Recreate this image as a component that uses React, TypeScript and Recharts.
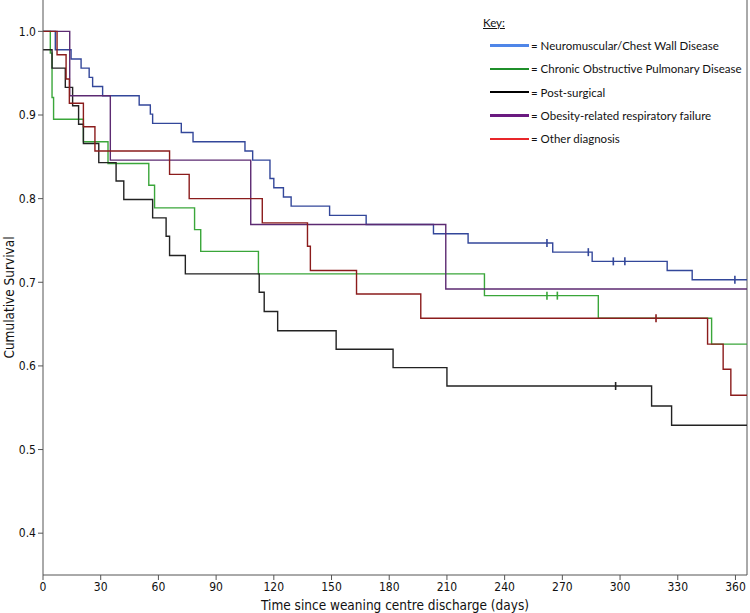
import {
  ComposedChart,
  Line,
  Scatter,
  XAxis,
  YAxis,
  ReferenceLine,
} from 'recharts'

// Kaplan-Meier steps (day, cumulative survival)
const neuroDays = [0, 6.4, 14.6, 19.8, 24, 25.8, 31, 50, 55.8, 57, 71.9, 78, 105, 109, 118, 120, 125, 129, 149, 168, 203, 221, 265, 285.5, 324.5, 337.5, 366]
const neuroSurv = [1.0, 0.978, 0.967, 0.956, 0.945, 0.934, 0.923, 0.912, 0.901, 0.89, 0.879, 0.868, 0.857, 0.846, 0.824, 0.813, 0.802, 0.791, 0.78, 0.769, 0.758, 0.747, 0.736, 0.725, 0.714, 0.703, 0.703]
const neuroCensorDays = [262, 283.5, 296.5, 302.5, 359.7]
const neuroCensorSurv = [0.747, 0.736, 0.725, 0.725, 0.703]

const copdDays = [0, 3.8, 4.7, 5.5, 21, 33.8, 55, 58, 78.8, 82, 112, 229.5, 288.7, 347.6, 366]
const copdSurv = [1.0, 0.974, 0.921, 0.895, 0.868, 0.842, 0.816, 0.789, 0.763, 0.737, 0.71, 0.684, 0.657, 0.626, 0.626]
const copdCensorDays = [262, 267.4]
const copdCensorSurv = [0.684, 0.684]

const postDays = [0, 4.7, 11.6, 15.4, 18.5, 21, 29, 38, 42, 57, 64, 65.8, 74, 112.4, 115, 122, 152.4, 182, 210, 316.4, 326.8, 366]
const postSurv = [0.978, 0.956, 0.933, 0.911, 0.889, 0.866, 0.843, 0.821, 0.799, 0.777, 0.755, 0.732, 0.71, 0.688, 0.665, 0.642, 0.62, 0.598, 0.576, 0.552, 0.529, 0.529]
const postCensorDays = [297.7]
const postCensorSurv = [0.576]

const obesityDays = [0, 13.9, 35, 108, 209.4, 366]
const obesitySurv = [1.0, 0.923, 0.846, 0.769, 0.692, 0.692]

const otherDays = [0, 7.3, 12, 13.7, 21, 27, 65.8, 76, 114, 137.5, 139, 163, 196.4, 345.5, 353.6, 357.6, 366]
const otherSurv = [1.0, 0.972, 0.943, 0.914, 0.886, 0.857, 0.829, 0.8, 0.771, 0.743, 0.714, 0.686, 0.657, 0.626, 0.596, 0.565, 0.565]
const otherCensorDays = [318.7]
const otherCensorSurv = [0.657]

const xTicks = [0, 30, 60, 90, 120, 150, 180, 210, 240, 270, 300, 330, 360]
const yTicks = [0.4, 0.5, 0.6, 0.7, 0.8, 0.9, 1.0]

const legendLabels = [
  '= Neuromuscular/Chest Wall Disease',
  '= Chronic Obstructive Pulmonary Disease',
  '= Post-surgical',
  '= Obesity-related respiratory failure',
  '= Other diagnosis',
]
const legendColors = ['#4f86e8', '#1f8f2a', '#000000', '#6a1a80', '#e8262a']

const zip = (days: number[], surv: number[]) =>
  days.map((day, i) => ({ day, s: surv[i] }))

const series = [
  { key: 'neuro', color: '#33479a', data: zip(neuroDays, neuroSurv), censor: zip(neuroCensorDays, neuroCensorSurv) },
  { key: 'copd', color: '#3aa63a', data: zip(copdDays, copdSurv), censor: zip(copdCensorDays, copdCensorSurv) },
  { key: 'post', color: '#222222', data: zip(postDays, postSurv), censor: zip(postCensorDays, postCensorSurv) },
  { key: 'obesity', color: '#5c2a72', data: zip(obesityDays, obesitySurv), censor: [] },
  { key: 'other', color: '#8b1c1c', data: zip(otherDays, otherSurv), censor: zip(otherCensorDays, otherCensorSurv) },
]

const axisFont = "'Liberation Sans Narrow', 'DejaVu Sans Condensed', sans-serif"

const censorShape = (color: string) => (props: any) => {
  const { cx, cy } = props
  return <line x1={cx} x2={cx} y1={cy - 4} y2={cy + 4} stroke={color} strokeWidth={1.6} />
}

export default function App() {
  return (
    <div style={{ position: 'absolute', left: 0, top: 0, width: 750, height: 613, background: '#fff' }}>
      <ComposedChart
        width={750}
        height={613}
        margin={{ top: 0, right: 3, left: 0, bottom: 8 }}
      >
        <XAxis
          type="number"
          dataKey="day"
          domain={[0, 366]}
          ticks={xTicks}
          allowDataOverflow
          height={30}
          stroke="#555"
          tickSize={5}
          tick={{ fill: '#111', fontSize: 12, fontFamily: axisFont }}
          label={{
            value: 'Time since weaning centre discharge (days)',
            position: 'insideBottom',
            offset: -5,
            style: { fill: '#111', fontSize: 13.5, fontFamily: axisFont },
          }}
        />
        <YAxis
          type="number"
          dataKey="s"
          domain={[0.35, 1.0375]}
          ticks={yTicks}
          allowDataOverflow
          width={43}
          stroke="#555"
          tickSize={5}
          tickFormatter={(v: number) => v.toFixed(1)}
          tick={{ fill: '#111', fontSize: 12, fontFamily: axisFont }}
          label={{
            value: 'Cumulative Survival',
            angle: -90,
            position: 'insideLeft',
            offset: 9,
            dy: 10,
            style: { fill: '#111', fontSize: 13.5, fontFamily: axisFont, textAnchor: 'middle' },
          }}
        />
        <ReferenceLine x={366} stroke="#555" />
        {series.map((s) => (
          <Line
            key={s.key}
            data={s.data}
            dataKey="s"
            type="stepAfter"
            stroke={s.color}
            strokeWidth={1.4}
            dot={false}
            isAnimationActive={false}
          />
        ))}
        {series
          .filter((s) => s.censor.length > 0)
          .map((s) => (
            <Scatter
              key={s.key + '-c'}
              data={s.censor}
              dataKey="s"
              shape={censorShape(s.color)}
              isAnimationActive={false}
            />
          ))}
      </ComposedChart>
      <div
        style={{
          position: 'absolute',
          left: 483,
          top: 14,
          fontFamily: 'Lato, sans-serif',
          fontSize: 11.5,
          color: '#111',
        }}
      >
        <div style={{ textDecoration: 'underline', height: 20, lineHeight: '18px' }}>Key:</div>
        {legendLabels.map((label, i) => (
          <div key={label} style={{ display: 'flex', alignItems: 'center', height: 23.3 }}>
            <span style={{ display: 'inline-block', width: 39, height: 2.5, background: legendColors[i], marginLeft: 7, marginRight: 2 }} />
            <span>{label}</span>
          </div>
        ))}
      </div>
    </div>
  )
}
